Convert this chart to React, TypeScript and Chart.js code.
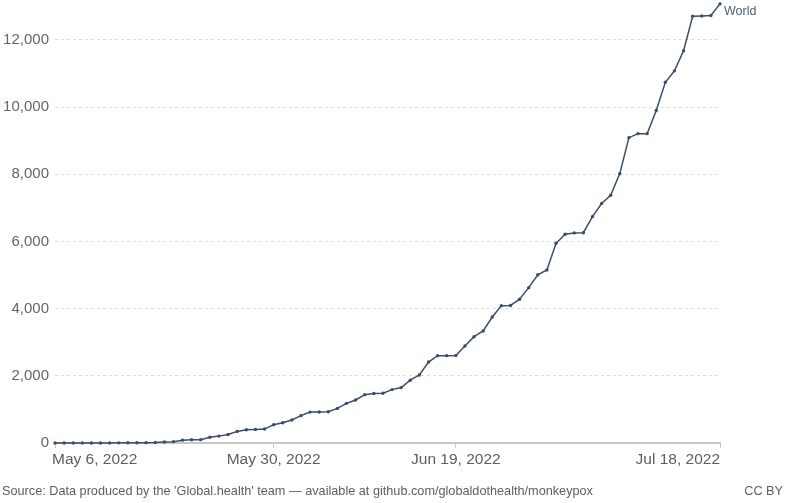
import React, { useEffect, useRef } from "react";
import { Chart, registerables } from "chart.js";

Chart.register(...registerables);

// Cumulative confirmed monkeypox cases, World, daily from May 6, 2022 to Jul 18, 2022
const DAY_INDEX: number[] = [
  0, 1, 2, 3, 4, 5, 6, 7, 8, 9,
  10, 11, 12, 13, 14, 15, 16, 17, 18, 19,
  20, 21, 22, 23, 24, 25, 26, 27, 28, 29,
  30, 31, 32, 33, 34, 35, 36, 37, 38, 39,
  40, 41, 42, 43, 44, 45, 46, 47, 48, 49,
  50, 51, 52, 53, 54, 55, 56, 57, 58, 59,
  60, 61, 62, 63, 64, 65, 66, 67, 68, 69,
  70, 71, 72, 73,
];
const WORLD_CASES: number[] = [
  1, 1, 1, 1, 1, 1, 2, 4, 6, 8,
  10, 15, 30, 40, 85, 95, 100, 170, 205, 255,
  345, 395, 405, 415, 545, 605, 685, 815, 920, 925,
  930, 1030, 1180, 1280, 1440, 1475, 1480, 1590, 1650, 1870,
  2025, 2410, 2600, 2600, 2605, 2890, 3165, 3335, 3750, 4090,
  4095, 4280, 4625, 5010, 5150, 5945, 6215, 6255, 6260, 6740,
  7130, 7375, 8020, 9090, 9210, 9210, 9900, 10740, 11080, 11680,
  12705, 12715, 12730, 13075,
];
const SERIES_NAME = "World";
const TICK_DAYS: number[] = [0, 24, 44, 73];
const TICK_LABELS: string[] = ["May 6, 2022", "May 30, 2022", "Jun 19, 2022", "Jul 18, 2022"];
const Y_TICKS: number[] = [0, 2000, 4000, 6000, 8000, 10000, 12000];
const SOURCE_TEXT =
  "Source: Data produced by the 'Global.health' team \u2014 available at github.com/globaldothealth/monkeypox";
const LICENSE_TEXT = "CC BY";

const FONT = '"Liberation Sans", Arial, Helvetica, sans-serif';
const LINE_COLOR = "#3b4d68";

export default function App() {
  const canvasRef = useRef<HTMLCanvasElement | null>(null);

  useEffect(() => {
    document.body.style.margin = "0";
    const canvas = canvasRef.current;
    if (!canvas) return;

    const textPlugin = {
      id: "owidText",
      afterDraw(chart: any) {
        const ctx = chart.ctx as CanvasRenderingContext2D;
        const xs = chart.scales.x;
        ctx.save();
        ctx.textBaseline = "middle";
        ctx.font = `15.5px ${FONT}`;
        ctx.fillStyle = "#5e5e5e";
        TICK_DAYS.forEach((d, i) => {
          const x = xs.getPixelForValue(d);
          if (i === 0) {
            ctx.textAlign = "left";
            ctx.fillText(TICK_LABELS[i], x - 3, 460);
          } else if (i === TICK_DAYS.length - 1) {
            ctx.textAlign = "right";
            ctx.fillText(TICK_LABELS[i], x, 460);
          } else {
            ctx.textAlign = "center";
            ctx.fillText(TICK_LABELS[i], x, 460);
          }
        });
        // series label
        const meta = chart.getDatasetMeta(0);
        const last = meta.data[meta.data.length - 1];
        ctx.font = `12.5px ${FONT}`;
        ctx.fillStyle = "#4e5f7c";
        ctx.textAlign = "left";
        ctx.fillText(SERIES_NAME, last.x + 4, last.y + 8);
        // footer
        ctx.font = `12.7px ${FONT}`;
        ctx.fillStyle = "#5e5e5e";
        ctx.textAlign = "left";
        ctx.fillText(SOURCE_TEXT, 2, 491);
        ctx.textAlign = "right";
        ctx.fillText(LICENSE_TEXT, 783, 491);
        ctx.restore();
      },
    };

    const chart = new Chart(canvas, {
      type: "line",
      data: {
        datasets: [
          {
            label: SERIES_NAME,
            data: DAY_INDEX.map((d, i) => ({ x: d, y: WORLD_CASES[i] })),
            borderColor: LINE_COLOR,
            backgroundColor: LINE_COLOR,
            borderWidth: 1.5,
            pointRadius: 1.7,
            pointBorderWidth: 0,
            pointBackgroundColor: LINE_COLOR,
            tension: 0,
            clip: false as any,
          },
        ],
      },
      options: {
        animation: false,
        responsive: true,
        maintainAspectRatio: false,
        layout: { autoPadding: false, padding: { top: 3, right: 70, bottom: 0, left: 0 } },
        plugins: {
          legend: { display: false },
          tooltip: { enabled: false },
        },
        scales: {
          x: {
            type: "linear",
            min: 0,
            max: 73,
            afterBuildTicks: (s: any) => {
              s.ticks = TICK_DAYS.map((v) => ({ value: v }));
            },
            afterFit: (s: any) => {
              s.height = 60;
              s.paddingLeft = 0;
              s.paddingRight = 0;
            },
            ticks: { display: false },
            grid: {
              drawOnChartArea: false,
              drawTicks: true,
              tickLength: 5,
              color: "#c8c8c8",
              lineWidth: 1,
            },
            border: { display: true, color: "#c8c8c8", width: 2 },
          },
          y: {
            type: "linear",
            min: 0,
            max: 13100,
            afterBuildTicks: (s: any) => {
              s.ticks = Y_TICKS.map((v) => ({ value: v }));
            },
            afterFit: (s: any) => {
              s.width = 55;
              s.paddingTop = 0;
              s.paddingBottom = 0;
            },
            ticks: {
              color: "#666666",
              font: { family: FONT, size: 15 },
              padding: 6,
              callback: (v: any) => Number(v).toLocaleString("en-US"),
            },
            grid: {
              color: "#dddddd",
              lineWidth: 1,
              drawTicks: false,
            },
            border: { display: false, dash: [3, 3] },
          },
        },
      },
      plugins: [textPlugin],
    });

    return () => {
      chart.destroy();
    };
  }, []);

  return (
    <div style={{ position: "fixed", left: 0, top: 0, width: 790, height: 503 }}>
      <canvas ref={canvasRef} />
    </div>
  );
}
